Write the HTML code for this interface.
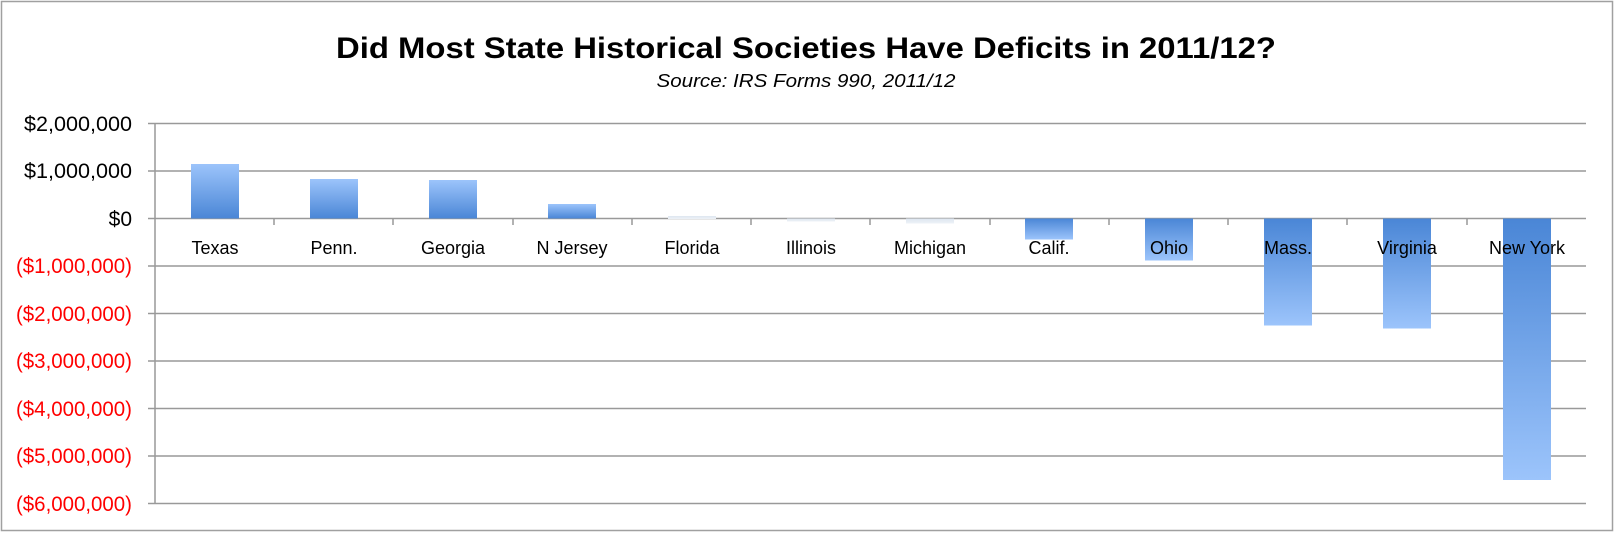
<!DOCTYPE html>
<html><head><meta charset="utf-8"><style>
html,body{margin:0;padding:0;background:#fff;}
svg{display:block;}
text{font-family:"Liberation Sans",sans-serif;}
</style></head><body>
<svg width="1615" height="533" xmlns="http://www.w3.org/2000/svg">
<defs>
<linearGradient id="gp" x1="0" y1="0" x2="0" y2="1"><stop offset="0" stop-color="#9cc4fb"/><stop offset="1" stop-color="#4a86d6"/></linearGradient>
<linearGradient id="gn" x1="0" y1="0" x2="0" y2="1"><stop offset="0" stop-color="#4a86d6"/><stop offset="1" stop-color="#9cc4fb"/></linearGradient>
<linearGradient id="gs" x1="0" y1="0" x2="0" y2="1"><stop offset="0" stop-color="#dde6f0"/><stop offset="1" stop-color="#eef2f7"/></linearGradient>
</defs>
<rect x="1.5" y="1.5" width="1611" height="529" fill="#fff" stroke="#a0a0a0" stroke-width="1.5"/>
<text x="806" y="58" font-size="30" font-weight="bold" text-anchor="middle" textLength="940" lengthAdjust="spacingAndGlyphs">Did Most State Historical Societies Have Deficits in 2011/12?</text>
<text x="806" y="87" font-size="18" font-style="italic" text-anchor="middle" textLength="299" lengthAdjust="spacingAndGlyphs">Source:  IRS Forms 990, 2011/12</text>
<g stroke="#999" stroke-width="1.5">
<line x1="148" y1="123.5" x2="1586" y2="123.5"/>
<line x1="148" y1="171" x2="1586" y2="171"/>
<line x1="148" y1="218.5" x2="1586" y2="218.5"/>
<line x1="148" y1="266" x2="1586" y2="266"/>
<line x1="148" y1="313.5" x2="1586" y2="313.5"/>
<line x1="148" y1="361" x2="1586" y2="361"/>
<line x1="148" y1="408.5" x2="1586" y2="408.5"/>
<line x1="148" y1="456" x2="1586" y2="456"/>
<line x1="148" y1="503.5" x2="1586" y2="503.5"/>
<line x1="155" y1="123.5" x2="155" y2="503.5"/>
<line x1="274" y1="218.5" x2="274" y2="225"/>
<line x1="393" y1="218.5" x2="393" y2="225"/>
<line x1="513" y1="218.5" x2="513" y2="225"/>
<line x1="632" y1="218.5" x2="632" y2="225"/>
<line x1="751" y1="218.5" x2="751" y2="225"/>
<line x1="870" y1="218.5" x2="870" y2="225"/>
<line x1="990" y1="218.5" x2="990" y2="225"/>
<line x1="1109" y1="218.5" x2="1109" y2="225"/>
<line x1="1228" y1="218.5" x2="1228" y2="225"/>
<line x1="1347" y1="218.5" x2="1347" y2="225"/>
<line x1="1467" y1="218.5" x2="1467" y2="225"/>
</g>
<g font-size="21" text-anchor="end">
<text x="132" y="131" textLength="108" lengthAdjust="spacingAndGlyphs">$2,000,000</text>
<text x="132" y="178" textLength="108" lengthAdjust="spacingAndGlyphs">$1,000,000</text>
<text x="132" y="226">$0</text>
<g fill="#ff0000">
<text x="132" y="273" textLength="116" lengthAdjust="spacingAndGlyphs">($1,000,000)</text>
<text x="132" y="321" textLength="116" lengthAdjust="spacingAndGlyphs">($2,000,000)</text>
<text x="132" y="368" textLength="116" lengthAdjust="spacingAndGlyphs">($3,000,000)</text>
<text x="132" y="416" textLength="116" lengthAdjust="spacingAndGlyphs">($4,000,000)</text>
<text x="132" y="463" textLength="116" lengthAdjust="spacingAndGlyphs">($5,000,000)</text>
<text x="132" y="511" textLength="116" lengthAdjust="spacingAndGlyphs">($6,000,000)</text>
</g></g>
<g>
<rect x="191" y="164" width="48" height="54.5" fill="url(#gp)"/>
<rect x="310" y="179" width="48" height="39.5" fill="url(#gp)"/>
<rect x="429" y="180" width="48" height="38.5" fill="url(#gp)"/>
<rect x="548" y="204" width="48" height="14.5" fill="url(#gp)"/>
<rect x="668" y="216" width="48" height="3" fill="url(#gs)"/>
<rect x="787" y="218.5" width="48" height="3" fill="url(#gs)"/>
<rect x="906" y="218.5" width="48" height="5" fill="url(#gs)"/>
<rect x="1025" y="218.5" width="48" height="21" fill="url(#gn)"/>
<rect x="1145" y="218.5" width="48" height="42" fill="url(#gn)"/>
<rect x="1264" y="218.5" width="48" height="107" fill="url(#gn)"/>
<rect x="1383" y="218.5" width="48" height="110" fill="url(#gn)"/>
<rect x="1503" y="218.5" width="48" height="261.5" fill="url(#gn)"/>
</g>
<g font-size="18" text-anchor="middle">
<text x="215" y="254">Texas</text>
<text x="334" y="254">Penn.</text>
<text x="453" y="254">Georgia</text>
<text x="572" y="254">N Jersey</text>
<text x="692" y="254">Florida</text>
<text x="811" y="254">Illinois</text>
<text x="930" y="254">Michigan</text>
<text x="1049" y="254">Calif.</text>
<text x="1169" y="254">Ohio</text>
<text x="1288" y="254">Mass.</text>
<text x="1407" y="254">Virginia</text>
<text x="1527" y="254">New York</text>
</g>
</svg>
</body></html>
